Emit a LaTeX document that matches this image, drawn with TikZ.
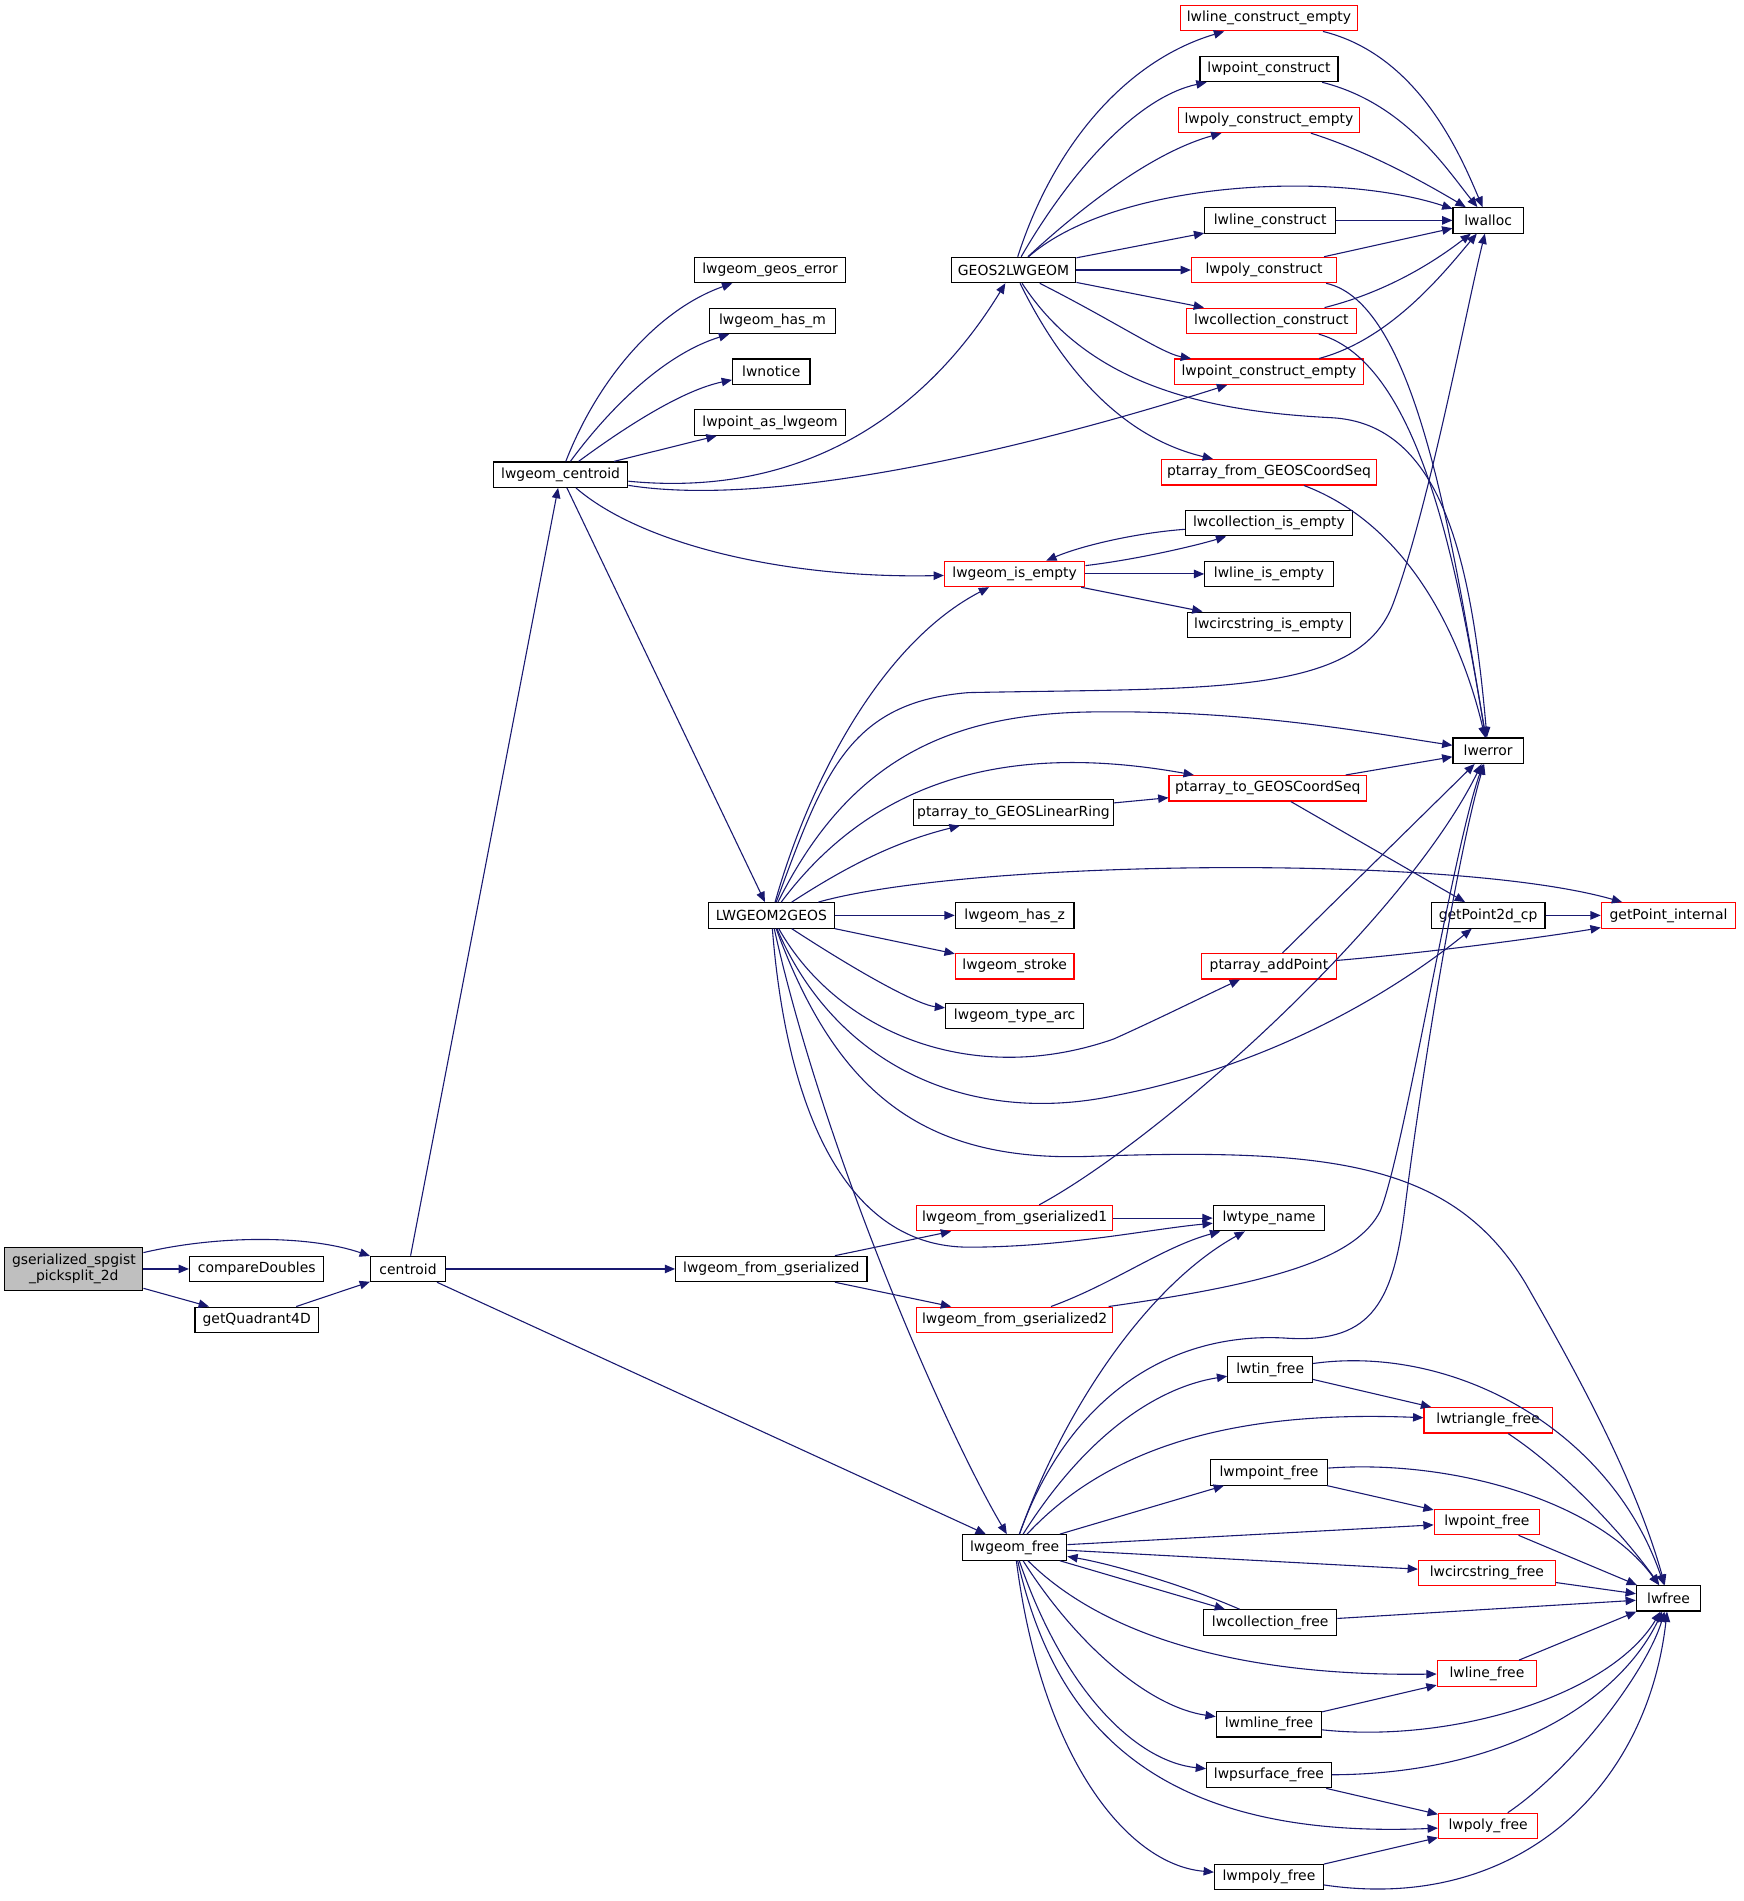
\documentclass[tikz,border=0pt]{standalone}
\usepackage{fontspec}
\setmainfont{DejaVu Sans}
\usetikzlibrary{arrows.meta}
\definecolor{edgec}{HTML}{191970}
\definecolor{gsfill}{HTML}{BFBFBF}
\begin{document}
\begin{tikzpicture}[x=1pt,y=-1pt,
  fn/.style={draw=black, line width=0.95pt, minimum height=21pt, inner sep=0pt, font=\fontsize{11.5}{13.5}\selectfont, text=black, fill=white},
  redfn/.style={fn, draw=red},
  e/.style={draw=edgec, line width=0.9pt, -{Triangle[length=8.5pt,width=7pt]}}]
\useasboundingbox (0,0) rectangle (1440,1570);
% nodes
\node[fn, fill=gsfill, minimum width=114pt, minimum height=35pt, align=center] (gs) at (61,1048) {gserialized\_spgist\\\_picksplit\_2d};
\node[fn, minimum width=111pt] (cmpD) at (212,1048) {compareDoubles};
\node[fn, minimum width=102pt] (getQ) at (212,1090) {getQuadrant4D};
\node[fn, minimum width=62pt] (cent) at (337,1048) {centroid};
\node[fn, minimum width=111pt] (lgc) at (463,392) {lwgeom\_centroid};
\node[fn, minimum width=125pt] (gerr) at (636,223) {lwgeom\_geos\_error};
\node[fn, minimum width=104pt] (hasm) at (638,265) {lwgeom\_has\_m};
\node[fn, minimum width=64pt] (notice) at (637,307) {lwnotice};
\node[fn, minimum width=125pt] (ptasg) at (636,349) {lwpoint\_as\_lwgeom};
\node[fn, minimum width=103pt] (gtl) at (837,223) {GEOS2LWGEOM};
\node[fn, minimum width=104pt] (ltg) at (637,756) {LWGEOM2GEOS};
\node[fn, minimum width=158pt] (lfg) at (637,1048) {lwgeom\_from\_gserialized};
\node[fn, minimum width=86pt] (lgfree) at (838,1278) {lwgeom\_free};
\node[redfn, minimum width=146pt] (lce) at (1048,15) {lwline\_construct\_empty};
\node[fn, minimum width=114pt] (pc) at (1048,57) {lwpoint\_construct};
\node[redfn, minimum width=149pt] (pce) at (1048,99) {lwpoly\_construct\_empty};
\node[fn, minimum width=108pt] (lc) at (1049,182) {lwline\_construct};
\node[redfn, minimum width=120pt] (polyc) at (1044,223) {lwpoly\_construct};
\node[redfn, minimum width=140pt] (collc) at (1050,265) {lwcollection\_construct};
\node[redfn, minimum width=156pt] (ptce) at (1048,307) {lwpoint\_construct\_empty};
\node[redfn, minimum width=177pt] (pafg) at (1048,390) {ptarray\_from\_GEOSCoordSeq};
\node[fn, minimum width=138pt] (collie) at (1048,432) {lwcollection\_is\_empty};
\node[fn, minimum width=106pt] (lie) at (1048,474) {lwline\_is\_empty};
\node[fn, minimum width=135pt] (cie) at (1048,516) {lwcircstring\_is\_empty};
\node[redfn, minimum width=163pt] (patg) at (1047,651) {ptarray\_to\_GEOSCoordSeq};
\node[redfn, minimum width=111pt] (pap) at (1048,798) {ptarray\_addPoint};
\node[fn, minimum width=92pt] (tname) at (1048,1006) {lwtype\_name};
\node[fn, minimum width=70pt] (tinf) at (1049,1131) {lwtin\_free};
\node[fn, minimum width=97pt] (mptf) at (1048,1216) {lwmpoint\_free};
\node[fn, minimum width=110pt] (collf) at (1049,1340) {lwcollection\_free};
\node[fn, minimum width=87pt] (mlf) at (1048,1424) {lwmline\_free};
\node[fn, minimum width=103pt] (psf) at (1048,1466) {lwpsurface\_free};
\node[fn, minimum width=90pt] (mpolyf) at (1048,1550) {lwmpoly\_free};
\node[redfn, minimum width=116pt] (gie) at (838,474) {lwgeom\_is\_empty};
\node[fn, minimum width=165pt] (patlr) at (837,671) {ptarray\_to\_GEOSLinearRing};
\node[fn, minimum width=98pt] (hasz) at (838,756) {lwgeom\_has\_z};
\node[redfn, minimum width=98pt] (stroke) at (838,798) {lwgeom\_stroke};
\node[fn, minimum width=114pt] (tarc) at (838,839) {lwgeom\_type\_arc};
\node[redfn, minimum width=162pt] (lfga) at (838,1006) {lwgeom\_from\_gserialized1};
\node[redfn, minimum width=162pt] (lfgb) at (838,1090) {lwgeom\_from\_gserialized2};
\node[fn, minimum width=58pt] (alloc) at (1229,182) {lwalloc};
\node[fn, minimum width=58pt] (err) at (1229,620) {lwerror};
\node[fn, minimum width=94pt] (gptd) at (1229,756) {getPoint2d\_cp};
\node[redfn, minimum width=106pt] (trif) at (1229,1173) {lwtriangle\_free};
\node[redfn, minimum width=87pt] (ptf) at (1228,1257) {lwpoint\_free};
\node[redfn, minimum width=113pt] (csf) at (1228,1299) {lwcircstring\_free};
\node[redfn, minimum width=82pt] (linef) at (1228,1382) {lwline\_free};
\node[redfn, minimum width=82pt] (polyf) at (1229,1508) {lwpoly\_free};
\node[redfn, minimum width=111pt] (gpi) at (1378,756) {getPoint\_internal};
\node[fn, minimum width=53pt] (lwfreeN) at (1378,1320) {lwfree};
% edges: left part
\draw[e] (gs) .. controls (180,1020) and (255,1020) .. (cent);
\draw[e] (gs) -- (cmpD);
\draw[e] (gs) -- (getQ);
\draw[e] (getQ) -- (cent);
\draw[e] (cent) -- (lgc);
\draw[e] (cent) -- (lfg);
\draw[e] (cent) -- (lgfree);
% lwgeom_centroid
\draw[e] (lgc) .. controls (495,310) and (545,255) .. (gerr);
\draw[e] (lgc) .. controls (505,335) and (550,292) .. (hasm);
\draw[e] (lgc) .. controls (520,350) and (565,322) .. (notice);
\draw[e] (lgc) -- (ptasg);
\draw[e] (lgc) .. controls (700,415) and (790,300) .. (gtl);
\draw[e] (lgc) .. controls (640,420) and (850,370) .. (ptce);
\draw[e] (lgc) .. controls (530,450) and (650,478) .. (gie);
\draw[e] (lgc) -- (ltg);
% GEOS2LWGEOM
\draw[e] (gtl) .. controls (870,120) and (930,50) .. (lce);
\draw[e] (gtl) .. controls (885,140) and (940,80) .. (pc);
\draw[e] (gtl) .. controls (900,165) and (955,125) .. (pce);
\draw[e] (gtl) .. controls (920,150) and (1100,140) .. (alloc);
\draw[e] (gtl) -- (lc);
\draw[e] (gtl) -- (polyc);
\draw[e] (gtl) -- (collc);
\draw[e] (gtl) .. controls (920,265) and (960,292) .. (ptce);
\draw[e] (gtl) .. controls (880,310) and (930,362) .. (pafg);
\draw[e] (gtl) .. controls (900,320) and (1000,340) .. (1100,345) .. controls (1190,350) and (1215,460) .. (err);
% to lwalloc
\draw[e] (lce) .. controls (1170,45) and (1205,125) .. (alloc);
\draw[e] (pc) .. controls (1160,85) and (1195,140) .. (alloc);
\draw[e] (pce) .. controls (1130,125) and (1175,150) .. (alloc);
\draw[e] (lc) -- (alloc);
\draw[e] (polyc) -- (alloc);
\draw[e] (collc) .. controls (1150,240) and (1190,212) .. (alloc);
\draw[e] (ptce) .. controls (1150,280) and (1195,222) .. (alloc);
% to lwerror
\draw[e] (polyc) .. controls (1170,250) and (1200,450) .. (err);
\draw[e] (collc) .. controls (1175,300) and (1205,480) .. (err);
\draw[e] (pafg) .. controls (1180,440) and (1215,560) .. (err);
% lwgeom_is_empty
\draw[e] (gie) .. controls (940,462) and (990,450) .. (collie);
\draw[e] (collie) .. controls (940,440) and (895,450) .. (gie);
\draw[e] (gie) -- (lie);
\draw[e] (gie) -- (cie);
% LWGEOM2GEOS
\draw[e] (ltg) .. controls (670,640) and (730,530) .. (gie);
\draw[e] (ltg) .. controls (680,640) and (700,580) .. (800,572) .. controls (1000,568) and (1120,575) .. (1150,500) .. controls (1180,420) and (1210,260) .. (alloc);
\draw[e] (ltg) .. controls (700,630) and (780,590) .. (900,588) .. controls (1030,586) and (1130,605) .. (err);
\draw[e] (ltg) .. controls (720,645) and (830,612) .. (patg);
\draw[e] (ltg) .. controls (700,715) and (740,695) .. (patlr);
\draw[e] (ltg) .. controls (800,710) and (1200,705) .. (gpi);
\draw[e] (ltg) -- (hasz);
\draw[e] (ltg) -- (stroke);
\draw[e] (ltg) .. controls (720,810) and (760,830) .. (tarc);
\draw[e] (ltg) .. controls (690,850) and (800,900) .. (920,858) .. controls (960,840) and (1000,820) .. (pap);
\draw[e] (ltg) .. controls (690,880) and (800,930) .. (920,905) .. controls (1050,880) and (1150,820) .. (gptd);
\draw[e] (ltg) .. controls (690,900) and (760,960) .. (900,955) .. controls (1100,948) and (1200,960) .. (1260,1060) .. controls (1300,1130) and (1350,1220) .. (lwfreeN);
\draw[e] (ltg) .. controls (650,920) and (700,1030) .. (800,1030) .. controls (880,1030) and (950,1015) .. (tname);
\draw[e] (ltg) .. controls (680,950) and (780,1180) .. (lgfree);
\draw[e] (patlr) -- (patg);
\draw[e] (patg) -- (err);
\draw[e] (patg) -- (gptd);
\draw[e] (pap) -- (err);
\draw[e] (pap) .. controls (1200,785) and (1300,770) .. (gpi);
\draw[e] (gptd) -- (gpi);
% from gserialized
\draw[e] (lfg) -- (lfga);
\draw[e] (lfg) -- (lfgb);
\draw[e] (lfga) -- (tname);
\draw[e] (lfga) .. controls (960,940) and (1160,760) .. (err);
\draw[e] (lfgb) .. controls (920,1060) and (960,1030) .. (tname);
\draw[e] (lfgb) .. controls (1050,1060) and (1120,1040) .. (1140,1000) .. controls (1160,950) and (1200,700) .. (err);
% lwgeom_free
\draw[e] (lgfree) .. controls (880,1160) and (950,1060) .. (tname);
\draw[e] (lgfree) .. controls (880,1160) and (960,1100) .. (1060,1105) .. controls (1130,1110) and (1150,1080) .. (1160,1000) .. controls (1175,880) and (1205,700) .. (err);
\draw[e] (lgfree) .. controls (900,1180) and (960,1145) .. (tinf);
\draw[e] (lgfree) .. controls (920,1190) and (1030,1165) .. (trif);
\draw[e] (lgfree) -- (mptf);
\draw[e] (lgfree) -- (ptf);
\draw[e] (lgfree) -- (csf);
\draw[e] (lgfree) -- (collf);
\draw[e] (collf) .. controls (980,1310) and (920,1292) .. (lgfree);
\draw[e] (lgfree) .. controls (900,1340) and (1000,1385) .. (linef);
\draw[e] (lgfree) .. controls (890,1360) and (950,1410) .. (mlf);
\draw[e] (lgfree) .. controls (880,1400) and (940,1455) .. (psf);
\draw[e] (lgfree) .. controls (870,1420) and (950,1520) .. (polyf);
\draw[e] (lgfree) .. controls (860,1450) and (930,1540) .. (mpolyf);
% free functions
\draw[e] (tinf) -- (trif);
\draw[e] (tinf) .. controls (1200,1110) and (1330,1180) .. (lwfreeN);
\draw[e] (trif) .. controls (1300,1220) and (1350,1280) .. (lwfreeN);
\draw[e] (mptf) -- (ptf);
\draw[e] (mptf) .. controls (1200,1205) and (1320,1240) .. (lwfreeN);
\draw[e] (ptf) -- (lwfreeN);
\draw[e] (csf) -- (lwfreeN);
\draw[e] (collf) -- (lwfreeN);
\draw[e] (linef) -- (lwfreeN);
\draw[e] (mlf) -- (linef);
\draw[e] (mlf) .. controls (1200,1440) and (1330,1400) .. (lwfreeN);
\draw[e] (psf) .. controls (1250,1465) and (1340,1400) .. (lwfreeN);
\draw[e] (psf) -- (polyf);
\draw[e] (polyf) .. controls (1300,1460) and (1360,1380) .. (lwfreeN);
\draw[e] (mpolyf) -- (polyf);
\draw[e] (mpolyf) .. controls (1250,1580) and (1360,1480) .. (lwfreeN);
\end{tikzpicture}
\end{document}
